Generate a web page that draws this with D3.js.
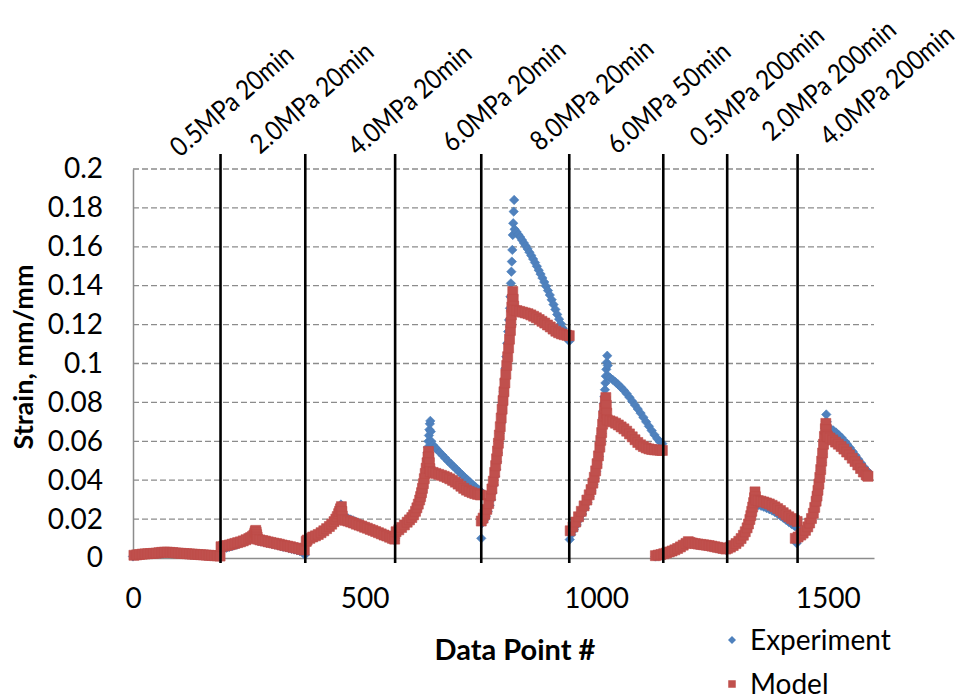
<!DOCTYPE html>
<html>
<head>
<meta charset="utf-8">
<script src="https://cdn.jsdelivr.net/npm/d3@7"></script>
<style>
  html, body { margin: 0; padding: 0; background: #fff; }
  svg { display: block; font-family: Lato, "Open Sans", sans-serif; }
</style>
</head>
<body>
<svg id="chart" width="966" height="700"></svg>
<script>
// ---- Data: [data point #, strain (mm/mm)] per loading stage ----
const expStage1 = [[0,.0008],[6,.0013],[12,.0016],[18,.0018],[24,.0019],[30,.0020],[36,.0021],[42,.0022],[48,.0023],[54,.0025],[60,.0027],[66,.0028],[72,.0029],[78,.0028],[84,.0026],[90,.0024],[96,.0023],[102,.0022],[108,.0021],[114,.0020],[120,.0019],[126,.0018],[132,.0017],[138,.0016],[144,.0015],[150,.0014],[156,.0013],[162,.0012],[168,.0011],[174,.0010],[180,.0009],[186,.0007]];
const expStage2 = [[190,.0045],[196,.0049],[202,.0053],[208,.0057],[214,.0061],[220,.0066],[226,.0071],[232,.0076],[238,.0081],[244,.0087],[250,.0093],[256,.0100],[260,.0106],[263,.0112],[266,.0108],[270,.0088],[276,.0085],[282,.0082],[288,.0079],[294,.0076],[300,.0072],[306,.0069],[312,.0065],[318,.0062],[324,.0058],[330,.0055],[336,.0051],[342,.0047],[348,.0044],[354,.0040],[360,.0036],[366,.0031],[371,.0016]];
const expStage3 = [[374,.0072],[378,.0085],[384,.0097],[390,.0105],[396,.0112],[402,.0120],[408,.0129],[414,.0139],[420,.0150],[426,.0162],[431,.0175],[436,.0190],[440,.0205],[443,.0220],[445,.0235],[447,.0250],[448,.0262],[449,.0275],[450,.0262],[451,.0245],[452,.0228],[453,.0215],[458,.0210],[464,.0204],[470,.0198],[476,.0192],[482,.0185],[488,.0178],[494,.0172],[500,.0165],[506,.0158],[512,.0151],[518,.0144],[524,.0137],[530,.0130],[536,.0123],[542,.0116],[548,.0109],[554,.0102],[560,.0096],[565,.0090]];
const expStage4 = [[566,.0100],[569,.0122],[574,.0136],[580,.0150],[586,.0164],[592,.0178],[597,.0190],[602,.0202],[606,.0215],[610,.0231],[613,.0248],[616,.0267],[619,.0288],[621,.0305],[623,.0324],[625,.0345],[627,.0368],[629,.0393],[631,.0420],[633,.0450],[634,.0480],[635,.0510],[636,.0540],[637,.0570],[638,.0600],[639,.0630],[640,.0660],[641,.0690],[642,.0705],[643,.0650],[644,.0600],[648,.0580],[652,.0569],[656,.0559],[662,.0544],[668,.0529],[674,.0514],[680,.0499],[686,.0485],[692,.0471],[698,.0457],[704,.0443],[710,.0429],[716,.0415],[722,.0402],[728,.0389],[734,.0376],[740,.0364],[746,.0352],[750,.0344]];
const expStage5 = [[752,.0101],[754,.0180],[758,.0195],[762,.0215],[766,.0240],[770,.0270],[773,.0300],[776,.0335],[779,.0375],[782,.0420],[784,.0455],[786,.0495],[788,.0540],[790,.0590],[792,.0640],[794,.0690],[796,.0745],[798,.0800],[800,.0855],[802,.0915],[804,.0975],[806,.1035],[808,.1104],[810,.1164],[812,.1224],[814,.1284],[815,.1343],[816,.1412],[817,.1472],[818,.1524],[819,.1584],[820,.1661],[821,.1721],[822,.1781],[823,.1841],[824,.1690],[828,.1677],[832,.1663],[836,.1650],[840,.1635],[844,.1620],[848,.1605],[852,.1589],[856,.1572],[860,.1555],[864,.1537],[868,.1519],[872,.1500],[876,.1480],[880,.1460],[884,.1440],[888,.1419],[892,.1397],[896,.1375],[900,.1352],[904,.1328],[908,.1303],[912,.1278],[916,.1252],[920,.1228],[924,.1204],[928,.1181],[932,.1160],[936,.1140],[940,.1122],[942,.1115]];
const expStage6 = [[943,.0095],[946,.0120],[952,.0145],[958,.0170],[964,.0198],[970,.0226],[976,.0256],[981,.0285],[986,.0316],[990,.0345],[994,.0378],[997,.0410],[1000,.0445],[1003,.0482],[1006,.0522],[1008,.0560],[1010,.0600],[1012,.0640],[1014,.0682],[1015,.0720],[1016,.0758],[1017,.0795],[1018,.0830],[1019,.0865],[1020,.0900],[1021,.0935],[1022,.0970],[1023,.1005],[1024,.1040],[1025,.0990],[1026,.0935],[1030,.0927],[1036,.0916],[1042,.0904],[1048,.0891],[1054,.0877],[1060,.0862],[1066,.0845],[1072,.0826],[1078,.0806],[1084,.0786],[1090,.0766],[1096,.0745],[1102,.0723],[1108,.0700],[1114,.0677],[1120,.0655],[1126,.0633],[1132,.0613],[1138,.0597],[1143,.0588]];
const expStage7 = [[1128,.0008],[1134,.0011],[1140,.0014],[1146,.0018],[1152,.0022],[1158,.0027],[1164,.0032],[1170,.0038],[1176,.0045],[1182,.0053],[1188,.0062],[1194,.0071],[1199,.0079],[1203,.0076],[1208,.0073],[1214,.0070],[1220,.0068],[1226,.0066],[1232,.0064],[1238,.0062],[1244,.0060],[1250,.0057],[1256,.0054],[1262,.0051],[1268,.0048],[1274,.0045],[1280,.0042]];
const expStage8 = [[1284,.0045],[1290,.0051],[1296,.0059],[1302,.0069],[1308,.0081],[1313,.0095],[1318,.0112],[1322,.0130],[1326,.0150],[1329,.0170],[1332,.0192],[1334,.0211],[1336,.0232],[1338,.0252],[1340,.0268],[1342,.0280],[1344,.0284],[1346,.0276],[1350,.0272],[1356,.0268],[1362,.0263],[1368,.0257],[1374,.0251],[1380,.0244],[1386,.0236],[1392,.0227],[1398,.0217],[1404,.0207],[1410,.0196],[1416,.0185],[1422,.0175],[1428,.0165],[1434,.0155]];
const expStage9 = [[1433,.0076],[1437,.0092],[1442,.0106],[1447,.0118],[1452,.0132],[1457,.0150],[1461,.0170],[1465,.0194],[1469,.0222],[1472,.0252],[1475,.0285],[1477,.0312],[1479,.0342],[1481,.0375],[1483,.0410],[1485,.0450],[1487,.0492],[1489,.0535],[1491,.0580],[1493,.0622],[1495,.0665],[1496,.0700],[1497,.0738],[1498,.0700],[1499,.0672],[1506,.0665],[1512,.0656],[1518,.0645],[1524,.0632],[1530,.0618],[1536,.0602],[1542,.0585],[1548,.0567],[1554,.0548],[1560,.0528],[1566,.0508],[1572,.0488],[1578,.0468],[1584,.0450],[1587,.0443]];

const modStage1 = [[2,.0014],[8,.0016],[14,.0018],[20,.0020],[26,.0021],[32,.0022],[38,.0023],[44,.0024],[50,.0025],[56,.0027],[62,.0029],[68,.0030],[74,.0030],[80,.0029],[86,.0028],[92,.0026],[98,.0025],[104,.0024],[110,.0023],[116,.0022],[122,.0021],[128,.0020],[134,.0019],[140,.0018],[146,.0017],[152,.0016],[158,.0015],[164,.0014],[170,.0013],[176,.0012],[182,.0011],[188,.0010]];
const modStage2 = [[190,.0058],[196,.0061],[202,.0064],[208,.0067],[214,.0071],[220,.0075],[226,.0079],[232,.0083],[238,.0088],[244,.0094],[250,.0100],[254,.0105],[258,.0111],[261,.0118],[263,.0127],[264,.0136],[265,.0142],[266,.0132],[267,.0120],[268,.0108],[269,.0097],[274,.0093],[280,.0090],[286,.0087],[292,.0083],[298,.0080],[304,.0077],[310,.0074],[316,.0071],[322,.0067],[328,.0064],[334,.0061],[340,.0058],[346,.0054],[352,.0051],[358,.0048],[364,.0044],[370,.0041]];
const modStage3 = [[374,.0085],[376,.0092],[382,.0101],[388,.0108],[394,.0114],[400,.0121],[406,.0130],[412,.0140],[418,.0151],[424,.0162],[429,.0174],[434,.0187],[438,.0200],[441,.0213],[444,.0228],[446,.0240],[448,.0253],[450,.0264],[451,.0240],[452,.0215],[453,.0197],[458,.0194],[464,.0190],[470,.0185],[476,.0180],[482,.0174],[488,.0169],[494,.0164],[500,.0158],[506,.0153],[512,.0147],[518,.0142],[524,.0136],[530,.0130],[536,.0124],[542,.0118],[548,.0113],[554,.0107],[560,.0101],[565,.0097]];
const modStage4 = [[568,.0135],[574,.0145],[580,.0157],[586,.0170],[592,.0184],[597,.0196],[602,.0208],[606,.0222],[610,.0240],[613,.0258],[616,.0277],[619,.0298],[621,.0316],[623,.0336],[625,.0358],[627,.0382],[629,.0408],[631,.0435],[633,.0462],[635,.0490],[637,.0520],[638,.0548],[639,.0520],[640,.0490],[641,.0460],[642,.0444],[648,.0440],[654,.0435],[660,.0430],[666,.0425],[672,.0420],[678,.0414],[684,.0407],[690,.0399],[696,.0390],[702,.0380],[708,.0369],[714,.0358],[720,.0349],[726,.0342],[732,.0336],[738,.0331],[744,.0327],[750,.0324]];
const modStage5 = [[752,.0190],[756,.0205],[760,.0225],[764,.0250],[768,.0280],[772,.0320],[775,.0355],[778,.0395],[781,.0440],[783,.0475],[785,.0510],[787,.0550],[789,.0590],[791,.0632],[793,.0675],[795,.0720],[797,.0765],[799,.0810],[801,.0855],[803,.0900],[805,.0945],[807,.0990],[809,.1035],[811,.1080],[813,.1125],[815,.1170],[816,.1210],[817,.1250],[818,.1290],[819,.1330],[820,.1370],[821,.1330],[822,.1295],[823,.1275],[829,.1272],[835,.1268],[841,.1264],[847,.1260],[853,.1256],[859,.1250],[865,.1243],[871,.1235],[877,.1226],[883,.1217],[889,.1208],[895,.1198],[901,.1188],[907,.1177],[913,.1166],[919,.1158],[925,.1152],[931,.1148],[937,.1145],[942,.1143]];
const modStage6 = [[944,.0140],[950,.0160],[956,.0185],[962,.0212],[968,.0240],[974,.0268],[980,.0298],[985,.0325],[989,.0352],[993,.0385],[996,.0415],[999,.0448],[1002,.0485],[1005,.0525],[1008,.0570],[1010,.0605],[1012,.0645],[1014,.0688],[1016,.0730],[1018,.0770],[1020,.0805],[1021,.0825],[1022,.0785],[1023,.0745],[1024,.0710],[1030,.0705],[1036,.0700],[1042,.0693],[1048,.0684],[1054,.0674],[1060,.0664],[1066,.0652],[1072,.0638],[1078,.0623],[1084,.0608],[1090,.0594],[1096,.0582],[1102,.0573],[1108,.0566],[1114,.0561],[1120,.0558],[1126,.0556],[1132,.0555],[1138,.0554],[1143,.0553]];
const modStage7 = [[1128,.0012],[1134,.0015],[1140,.0018],[1146,.0022],[1152,.0026],[1158,.0031],[1164,.0036],[1170,.0042],[1176,.0049],[1182,.0057],[1188,.0066],[1194,.0075],[1199,.0084],[1203,.0080],[1208,.0077],[1214,.0074],[1220,.0072],[1226,.0070],[1232,.0068],[1238,.0066],[1244,.0064],[1250,.0061],[1256,.0058],[1262,.0055],[1268,.0052],[1274,.0049],[1280,.0046]];
const modStage8 = [[1284,.0050],[1290,.0056],[1296,.0064],[1302,.0074],[1308,.0086],[1313,.0100],[1318,.0117],[1322,.0135],[1326,.0155],[1329,.0175],[1332,.0198],[1334,.0218],[1336,.0240],[1338,.0262],[1340,.0285],[1342,.0310],[1343,.0340],[1344,.0315],[1345,.0298],[1350,.0295],[1356,.0292],[1362,.0288],[1368,.0283],[1374,.0278],[1380,.0271],[1386,.0263],[1392,.0254],[1398,.0244],[1404,.0233],[1410,.0222],[1416,.0212],[1422,.0203],[1428,.0195],[1434,.0188]];
const modStage9 = [[1430,.0101],[1436,.0108],[1442,.0118],[1447,.0128],[1452,.0142],[1457,.0160],[1461,.0180],[1465,.0203],[1469,.0230],[1472,.0260],[1475,.0292],[1477,.0318],[1479,.0348],[1481,.0380],[1483,.0415],[1485,.0455],[1487,.0498],[1489,.0540],[1491,.0585],[1493,.0625],[1495,.0665],[1496,.0692],[1497,.0660],[1498,.0630],[1500,.0624],[1505,.0617],[1511,.0607],[1517,.0596],[1523,.0585],[1529,.0573],[1535,.0560],[1541,.0545],[1547,.0530],[1553,.0513],[1559,.0496],[1565,.0478],[1571,.0460],[1577,.0442],[1583,.0427],[1587,.0420]];

// Stage boundaries (data point #) and their load / hold-time captions
const stageBounds = [189, 372, 566, 752, 942, 1145, 1283, 1435];
const stageLabels = ["0.5MPa 20min", "2.0MPa 20min", "4.0MPa 20min", "6.0MPa 20min", "8.0MPa 20min",
                     "6.0MPa 50min", "0.5MPa 200min", "2.0MPa 200min", "4.0MPa 200min"];

// Axis ticks
const xTicks = [0, 500, 1000, 1500];
const yTicks = [0, 0.02, 0.04, 0.06, 0.08, 0.1, 0.12, 0.14, 0.16, 0.18, 0.2];
const yTickLabels = ["0", "0.02", "0.04", "0.06", "0.08", "0.1", "0.12", "0.14", "0.16", "0.18", "0.2"];

const seriesNames = ["Experiment", "Model"];

// ---- Layout ----
const plot = { left: 133, right: 874, top: 169, bottom: 558 };
// caption baseline start points (px) above the plot
const captionPos = [[180,158],[260,155],[358,157],[452,153],[540,152],[617,155],[700,148],[772,142],[830,147]];
const colors = { exp: "#4F81BD", expEdge: "#4A7EBB", mod: "#C0504D", modEdge: "#BE4B48", grid: "#8c8c8c" };

const experiment = [expStage1, expStage2, expStage3, expStage4, expStage5, expStage6, expStage7, expStage8, expStage9].flat();
const model = [modStage1, modStage2, modStage3, modStage4, modStage5, modStage6, modStage7, modStage8, modStage9].flat();

const svg = d3.select("#chart");
const x = d3.scaleLinear().domain([0, 1600]).range([plot.left, plot.right]);
const y = d3.scaleLinear().domain([0, 0.2]).range([plot.bottom, plot.top]);

// horizontal dashed gridlines
svg.append("g")
  .selectAll("line")
  .data(yTicks.filter(d => d > 0))
  .join("line")
  .attr("x1", plot.left).attr("x2", plot.right)
  .attr("y1", d => y(d)).attr("y2", d => y(d))
  .attr("stroke", colors.grid).attr("stroke-width", 1.3)
  .attr("stroke-dasharray", "6,3");

// y axis
const yAxis = svg.append("g")
  .attr("transform", `translate(${plot.left},0)`)
  .call(d3.axisLeft(y).tickValues(yTicks).tickFormat((d, i) => yTickLabels[i]).tickSize(0).tickSizeOuter(0).tickPadding(30));
yAxis.select(".domain").attr("stroke", colors.grid).attr("stroke-width", 1.5);
yAxis.selectAll("text").attr("font-size", 28).attr("fill", "#000").attr("font-family", "Lato, sans-serif");

// x axis
const xAxis = svg.append("g")
  .attr("transform", `translate(0,${plot.bottom})`)
  .call(d3.axisBottom(x).tickValues(xTicks).tickFormat(d3.format("d")).tickSize(0).tickSizeOuter(0).tickPadding(30));
xAxis.select(".domain").attr("stroke", colors.grid).attr("stroke-width", 1.5);
xAxis.selectAll("text").attr("font-size", 28).attr("fill", "#000").attr("font-family", "Lato, sans-serif");

// marker shapes
const diamond = r => `M0,${-r}L${r},0L0,${r}L${-r},0Z`;
const square = s => `M${-s/2},${-s/2}h${s}v${s}h${-s}Z`;

// Experiment (diamonds) then Model (squares) drawn over it
svg.append("g")
  .selectAll("path")
  .data(experiment)
  .join("path")
  .attr("d", diamond(4.7))
  .attr("transform", d => `translate(${x(d[0])},${y(d[1])})`)
  .attr("fill", colors.exp).attr("stroke", colors.expEdge).attr("stroke-width", 0.6);

svg.append("g")
  .selectAll("path")
  .data(model)
  .join("path")
  .attr("d", square(10))
  .attr("transform", d => `translate(${x(d[0])},${y(d[1])})`)
  .attr("fill", colors.mod).attr("stroke", colors.modEdge).attr("stroke-width", 0.6);

// stage boundary lines
svg.append("g")
  .selectAll("line")
  .data(stageBounds)
  .join("line")
  .attr("x1", d => x(d)).attr("x2", d => x(d))
  .attr("y1", plot.top - 15).attr("y2", plot.bottom + 5)
  .attr("stroke", "#000").attr("stroke-width", 2.6);

// stage captions (slightly condensed, set on a rising diagonal)
svg.append("g")
  .selectAll("text")
  .data(stageLabels)
  .join("text")
  .attr("transform", (d, i) => `translate(${captionPos[i][0]},${captionPos[i][1]}) rotate(-41)`)
  .attr("font-size", 27)
  .attr("fill", "#000")
  .text(d => d)
  .each(function () {
    const natural = this.getComputedTextLength();
    d3.select(this).attr("textLength", natural * 0.88).attr("lengthAdjust", "spacingAndGlyphs");
  });

// axis titles
svg.append("text")
  .attr("transform", `translate(33,357) rotate(-90)`)
  .attr("text-anchor", "middle")
  .attr("font-size", 27).attr("font-weight", "bold").attr("fill", "#000")
  .text("Strain, mm/mm");

svg.append("text")
  .attr("x", 515).attr("y", 660)
  .attr("text-anchor", "middle")
  .attr("font-size", 29).attr("font-weight", "bold").attr("fill", "#000")
  .text("Data Point #");

// legend
const legend = svg.append("g");
const legendRows = [
  { name: seriesNames[0], shape: diamond(4), fill: colors.exp, cy: 640 },
  { name: seriesNames[1], shape: square(7.5), fill: colors.mod, cy: 684 }
];
legendRows.forEach(r => {
  legend.append("path").attr("d", r.shape).attr("transform", `translate(732,${r.cy})`).attr("fill", r.fill);
  legend.append("text").attr("x", 750).attr("y", r.cy + 10)
    .attr("font-size", 28).attr("fill", "#000").text(r.name);
});
</script>
</body>
</html>
